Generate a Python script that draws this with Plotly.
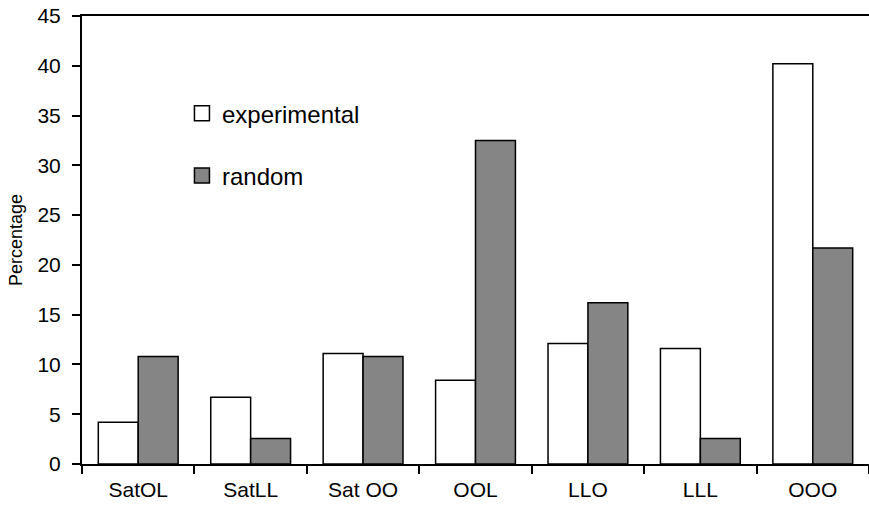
import plotly.graph_objects as go

categories = ["SatOL", "SatLL", "Sat OO", "OOL", "LLO", "LLL", "OOO"]
experimental = [4.2, 6.7, 11.1, 8.4, 12.1, 11.6, 40.2]
random_vals = [10.8, 2.55, 10.8, 32.5, 16.2, 2.55, 21.7]
y_ticks = [0, 5, 10, 15, 20, 25, 30, 35, 40, 45]

FONT = "Liberation Sans, Arial, sans-serif"
GRAY = "#858585"

fig = go.Figure()
fig.add_trace(go.Bar(x=categories, y=experimental, name="experimental",
                     marker=dict(color="white", line=dict(color="black", width=1.5)),
                     showlegend=False))
fig.add_trace(go.Bar(x=categories, y=random_vals, name="random",
                     marker=dict(color=GRAY, line=dict(color="black", width=1.5)),
                     showlegend=False))
# legend entries
fig.add_trace(go.Scatter(x=[None], y=[None], mode="markers", name="experimental",
                         legendgroup="a",
                         marker=dict(symbol="square", size=15, color="white",
                                     line=dict(color="black", width=1.5))))
fig.add_trace(go.Scatter(x=[None], y=[None], mode="markers", name="random",
                         legendgroup="b",
                         marker=dict(symbol="square", size=15, color=GRAY,
                                     line=dict(color="black", width=1.5))))

fig.update_layout(
    width=869, height=506,
    margin=dict(l=82, r=0, t=16, b=42, autoexpand=False),
    plot_bgcolor="white", paper_bgcolor="white",
    barmode="group", bargap=0.29, bargroupgap=0,
    font=dict(family=FONT, color="black", size=20),
    legend=dict(x=0.127, y=0.832, xanchor="left", yanchor="top",
                traceorder="grouped", tracegroupgap=28,
                font=dict(size=24, family=FONT), bgcolor="rgba(0,0,0,0)"),
    xaxis=dict(type="category", showline=True, linecolor="black", linewidth=2,
               mirror=True, ticks="outside", tickson="boundaries", ticklen=8,
               tickwidth=2, tickcolor="black", showgrid=False, automargin=False,
               ticklabelstandoff=6,
               tickfont=dict(size=21, family=FONT)),
    yaxis=dict(range=[0, 45], tickvals=y_ticks, showline=True, linecolor="black",
               linewidth=2, ticks="outside", ticklen=8, tickwidth=2,
               tickcolor="black", showgrid=False, zeroline=False, automargin=False,
               ticklabelstandoff=7, ticklabeloverflow="allow",
               tickfont=dict(size=21, family=FONT),
               title=dict(text="Percentage", font=dict(size=18, family=FONT), standoff=10)),
)

fig.write_html("out.html", config={"displayModeBar": False},
               post_script="document.body.style.margin='0';document.body.style.overflow='hidden';")
